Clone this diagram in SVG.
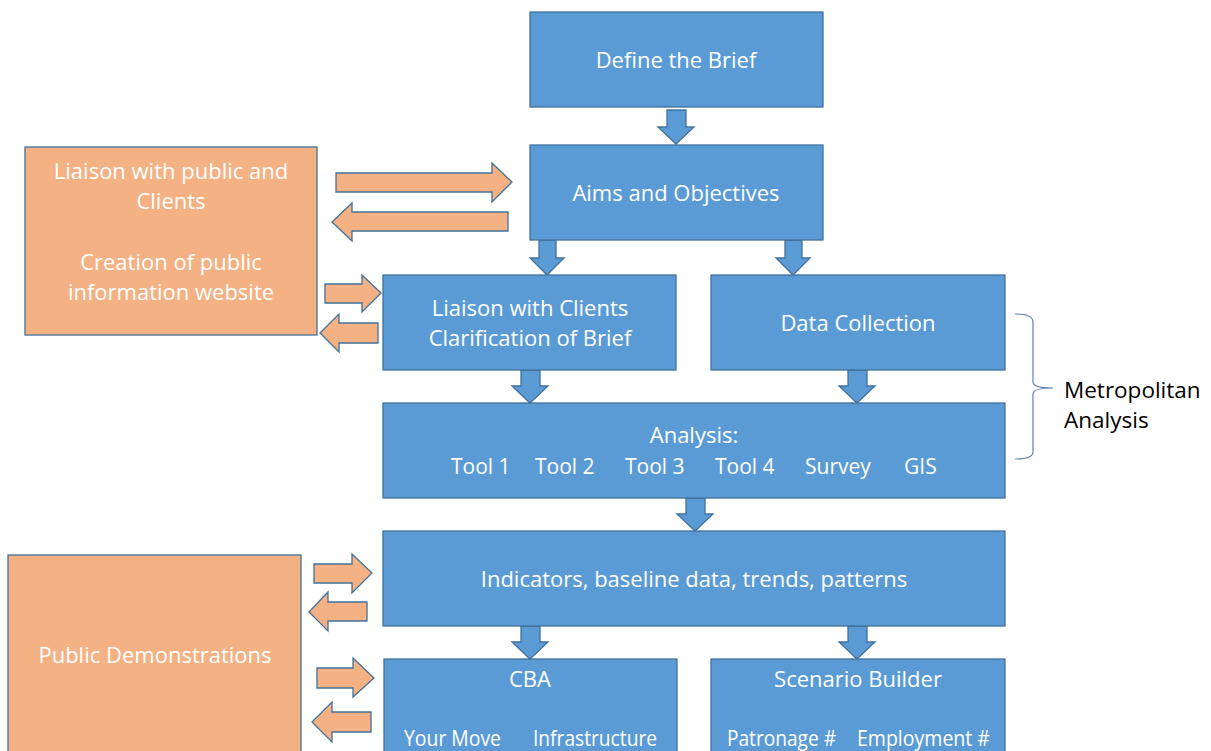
<svg xmlns="http://www.w3.org/2000/svg" width="1211" height="751" viewBox="0 0 1211 751">
<style>
.b{fill:#5b9bd5;stroke:#41719c;stroke-width:1.3}
.o{fill:#f4b183;stroke:#41719c;stroke-width:1.3}
.ba{fill:#5b9bd5;stroke:#41719c;stroke-width:1.3;stroke-linejoin:miter}
.oa{fill:#f4b183;stroke:#41719c;stroke-width:1.3;stroke-linejoin:miter}
text{font-family:"Open Sans","Liberation Sans",Arial,sans-serif;font-size:22px;fill:#ffffff;text-anchor:middle}
.k{fill:#000000;text-anchor:start;font-size:22.5px}
.s{text-anchor:start;font-size:21px}
</style>
<rect width="1211" height="751" fill="#ffffff"/>
<g id="connectors">
<path class="ba" d="M667,110 H686 V127 H694 L676,144 L658,127 H667 Z"/>
<path class="ba" d="M539,240 H556 V258 H564 L547,275 L530,258 H539 Z"/>
<path class="ba" d="M785,240 H802 V258 H810 L793,275 L776,258 H785 Z"/>
<path class="ba" d="M521,370 H540 V386 H548 L530,403 L512,386 H521 Z"/>
<path class="ba" d="M848,370 H867 V386 H875 L857,403 L839,386 H848 Z"/>
<path class="ba" d="M686,498 H705 V514 H713 L695,531 L677,514 H686 Z"/>
<path class="ba" d="M521,626 H540 V642 H548 L530,659 L512,642 H521 Z"/>
<path class="ba" d="M848,626 H867 V642 H875 L857,659 L839,642 H848 Z"/>
<path class="oa" d="M336,173 H492 V163 L512,182 L492,202 V192 H336 Z"/>
<path class="oa" d="M508,212 H352 V203 L332,222 L352,241 V231 H508 Z"/>
<path class="oa" d="M325,284 H362 V275 L381,293 L362,312 V303 H325 Z"/>
<path class="oa" d="M378,323 H339 V314 L320,333 L339,352 V343 H378 Z"/>
<path class="oa" d="M314,564 H352 V554 L372,573 L352,593 V583 H314 Z"/>
<path class="oa" d="M367,602 H328 V592 L309,612 L328,631 V621 H367 Z"/>
<path class="oa" d="M317,668 H353 V658 L374,678 L353,697 V688 H317 Z"/>
<path class="oa" d="M371,712 H332 V702 L312,722 L332,742 V732 H371 Z"/>
<path d="M1015,314 Q1033,314 1033,322 V382 Q1033,388 1053,388 Q1033,388 1033,394 V452 Q1033,459 1015,459" fill="none" stroke="#5b83b8" stroke-width="1.2"/>
</g>
<g id="define">
<rect class="b" x="530" y="12" width="293" height="95"/>
<text x="676" y="68">Define the Brief</text>
</g>
<g id="aims">
<rect class="b" x="530" y="145" width="293" height="95"/>
<text x="676" y="201">Aims and Objectives</text>
</g>
<g id="liaison-public">
<rect class="o" x="25" y="147" width="292" height="188"/>
<text x="171" y="179">Liaison with public and</text>
<text x="171" y="209">Clients</text>
<text x="171" y="270">Creation of public</text>
<text x="171" y="300">information website</text>
</g>
<g id="liaison-clients">
<rect class="b" x="383" y="275" width="293" height="95"/>
<text x="530" y="316">Liaison with Clients</text>
<text x="530" y="346">Clarification of Brief</text>
</g>
<g id="data">
<rect class="b" x="711" y="275" width="294" height="95"/>
<text x="858" y="331">Data Collection</text>
</g>
<g id="metro">
<text class="k" x="1064" y="398">Metropolitan</text>
<text class="k" x="1064" y="428">Analysis</text>
</g>
<g id="analysis">
<rect class="b" x="383" y="403" width="622" height="95"/>
<text x="694" y="443">Analysis:</text>
<text class="s" x="451" y="474">Tool 1</text>
<text class="s" x="535" y="474">Tool 2</text>
<text class="s" x="625" y="474">Tool 3</text>
<text class="s" x="715" y="474">Tool 4</text>
<text class="s" x="805" y="474">Survey</text>
<text class="s" x="904" y="474">GIS</text>
</g>
<g id="indicators">
<rect class="b" x="383" y="531" width="622" height="95"/>
<text x="694" y="587">Indicators, baseline data, trends, patterns</text>
</g>
<g id="demos">
<rect class="o" x="8" y="555" width="293" height="210"/>
<text x="155" y="663">Public Demonstrations</text>
</g>
<g id="cba">
<rect class="b" x="384" y="659" width="293" height="110"/>
<text x="530" y="687">CBA</text>
<text class="s" x="404" y="746" textLength="97" lengthAdjust="spacingAndGlyphs">Your Move</text>
<text class="s" x="533" y="746" textLength="124" lengthAdjust="spacingAndGlyphs">Infrastructure</text>
</g>
<g id="scenario">
<rect class="b" x="711" y="659" width="294" height="110"/>
<text x="858" y="687">Scenario Builder</text>
<text class="s" x="727" y="746" textLength="109" lengthAdjust="spacingAndGlyphs">Patronage #</text>
<text class="s" x="857" y="746" textLength="133" lengthAdjust="spacingAndGlyphs">Employment #</text>
</g>
</svg>
